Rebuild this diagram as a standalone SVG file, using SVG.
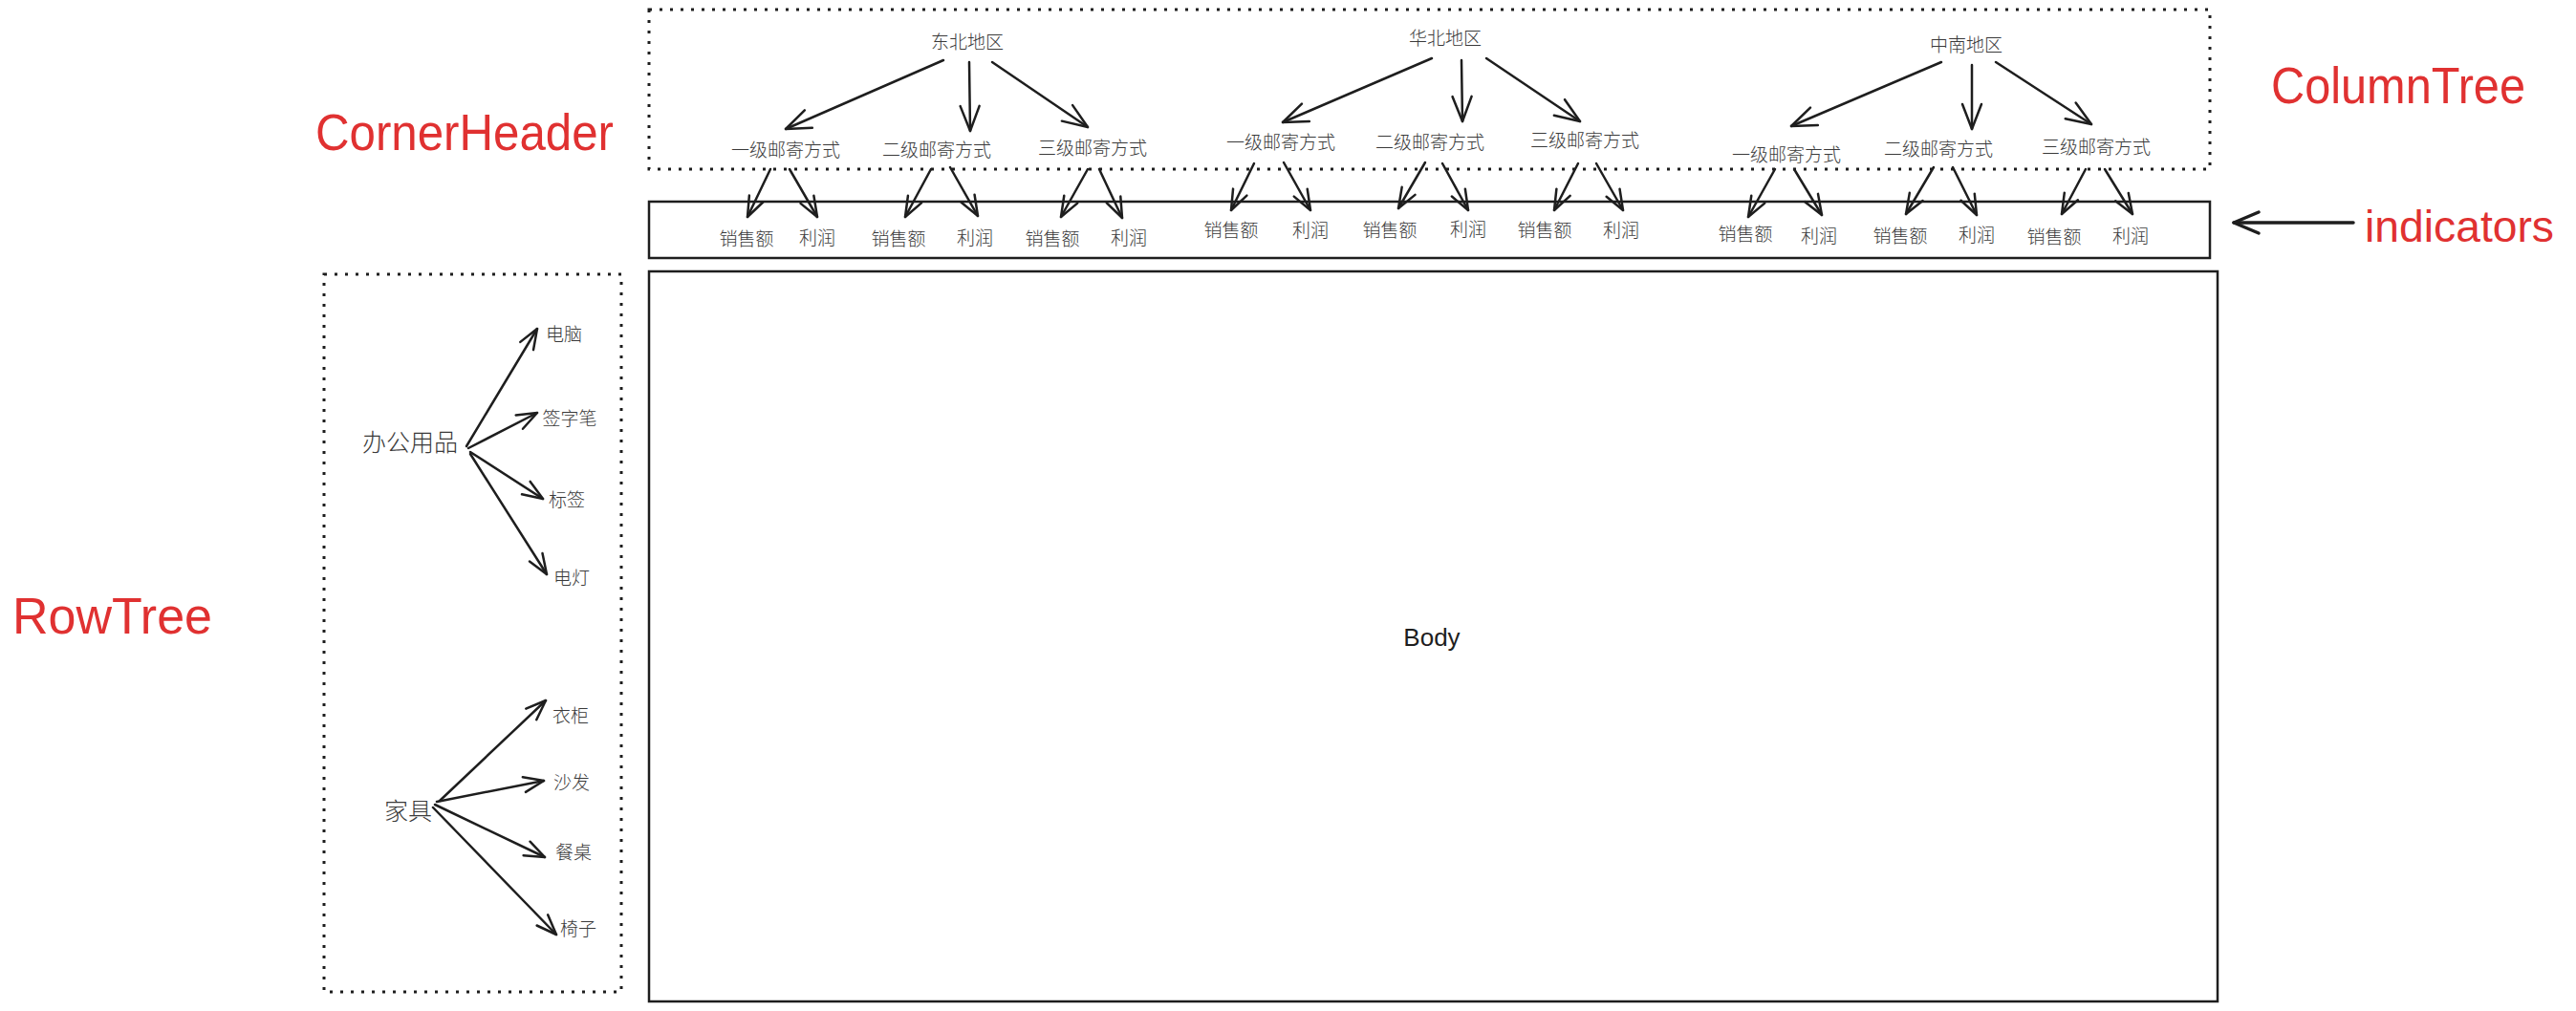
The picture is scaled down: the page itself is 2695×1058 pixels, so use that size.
<svg xmlns="http://www.w3.org/2000/svg" width="2695" height="1058" viewBox="0 0 2695 1058">
<defs>
<style>
.t{font-family:"Noto Sans CJK SC","Noto Sans",sans-serif;font-weight:300;fill:#3a3a3a;text-anchor:middle;dominant-baseline:central}
.s{font-size:19px}
.p{font-size:25px}
.lbl{font-family:"Liberation Sans","DejaVu Sans",sans-serif;fill:#e03131;font-size:54px}
.dot{fill:none;stroke:#1e1e1e;stroke-width:3;stroke-dasharray:3 8}
.box{fill:none;stroke:#1e1e1e;stroke-width:2.5}
.a{fill:none;stroke:#1e1e1e;stroke-width:2.5;stroke-linecap:round;marker-end:url(#ah)}
.b{fill:none;stroke:#1e1e1e;stroke-width:2.5;stroke-linecap:round;marker-end:url(#ahs)}
</style>
<marker id="ah" viewBox="-30 -15 35 30" refX="0" refY="0" markerWidth="35" markerHeight="30" markerUnits="userSpaceOnUse" orient="auto" overflow="visible">
<path d="M-26,-10 L0,0 L-26,10" fill="none" stroke="#1e1e1e" stroke-width="2.5" stroke-linecap="round" stroke-linejoin="round"/>
</marker>
<marker id="ahs" viewBox="-30 -15 35 30" refX="0" refY="0" markerWidth="35" markerHeight="30" markerUnits="userSpaceOnUse" orient="auto" overflow="visible">
<path d="M-21,-8 L0,0 L-21,8" fill="none" stroke="#1e1e1e" stroke-width="2.5" stroke-linecap="round" stroke-linejoin="round"/>
</marker>
<marker id="ahr" viewBox="-30 -15 35 30" refX="0" refY="0" markerWidth="35" markerHeight="30" markerUnits="userSpaceOnUse" orient="auto" overflow="visible">
<path d="M-26,-11 L0,0 L-26,11" fill="none" stroke="#1e1e1e" stroke-width="3.5" stroke-linecap="round" stroke-linejoin="round"/>
</marker>
</defs>
<rect width="2695" height="1058" fill="#ffffff"/>

<g id="frames">
<rect id="column-tree-frame" class="dot" x="679" y="10" width="1633" height="167"/>
<rect id="indicators-frame" class="box" x="679" y="211" width="1633" height="59"/>
<rect id="row-tree-frame" class="dot" x="339" y="287" width="311" height="751"/>
<g id="body"><rect class="box" x="679" y="284" width="1641" height="764"/>
<text x="1498" y="667" font-family="Liberation Sans, sans-serif" font-size="26" fill="#1e1e1e" text-anchor="middle" dominant-baseline="central">Body</text></g>
</g>

<g id="labels">
<text id="label-corner" class="lbl" x="330" y="157" textLength="312" lengthAdjust="spacingAndGlyphs">CornerHeader</text>
<text id="label-column" class="lbl" x="2376" y="108" textLength="266" lengthAdjust="spacingAndGlyphs">ColumnTree</text>
<text id="label-indicators" class="lbl" x="2474" y="253" font-size="46" style="font-size:46px" textLength="198" lengthAdjust="spacingAndGlyphs">indicators</text>
<text id="label-row" class="lbl" x="13" y="663" textLength="209" lengthAdjust="spacingAndGlyphs">RowTree</text>
</g>

<g id="connectors">
<path class="a" d="M987,63 L822,135"/>
<path class="a" d="M1014,65 L1015,137"/>
<path class="a" d="M1038,65 L1138,133"/>
<path class="a" d="M1498,61 L1342,128"/>
<path class="a" d="M1529,63 L1530,127"/>
<path class="a" d="M1555,61 L1653,127"/>
<path class="a" d="M2031,65 L1874,132"/>
<path class="a" d="M2063,68 L2063,135"/>
<path class="a" d="M2088,65 L2188,130"/>

<path class="b" d="M806,177 L782,227"/>
<path class="b" d="M826,177 L855,227"/>
<path class="b" d="M974,177 L947,227"/>
<path class="b" d="M994,175 L1023,226"/>
<path class="b" d="M1138,177 L1110,227"/>
<path class="b" d="M1150,177 L1174,228"/>
<path class="b" d="M1312,171 L1288,220"/>
<path class="b" d="M1343,170 L1371,220"/>
<path class="b" d="M1491,170 L1463,218"/>
<path class="b" d="M1509,171 L1536,220"/>
<path class="b" d="M1651,171 L1626,220"/>
<path class="b" d="M1670,171 L1698,220"/>
<path class="b" d="M1857,177 L1829,227"/>
<path class="b" d="M1877,177 L1906,225"/>
<path class="b" d="M2023,175 L1994,224"/>
<path class="b" d="M2043,175 L2068,225"/>
<path class="b" d="M2182,177 L2157,224"/>
<path class="b" d="M2202,177 L2231,224"/>

<path class="b" d="M488,467 L562,344"/>
<path class="b" d="M490,469 L562,432"/>
<path class="b" d="M492,473 L568,522"/>
<path class="b" d="M492,475 L572,601"/>
<path class="b" d="M460,838 L571,733"/>
<path class="b" d="M457,839 L569,817"/>
<path class="b" d="M455,842 L570,897"/>
<path class="b" d="M453,845 L582,978"/>

<path d="M2462,233 L2337,233" fill="none" stroke="#1e1e1e" stroke-width="3.5" stroke-linecap="round" marker-end="url(#ahr)"/>
</g>

<g id="column-nodes">
<g id="n-dongbei"><text class="t s" x="1012" y="42">东北地区</text></g>
<g id="n-huabei"><text class="t s" x="1512" y="38">华北地区</text></g>
<g id="n-zhongnan"><text class="t s" x="2057" y="45">中南地区</text></g>

<g id="n-db-1"><text class="t s" x="822" y="155">一级邮寄方式</text></g>
<g id="n-db-2"><text class="t s" x="980" y="155">二级邮寄方式</text></g>
<g id="n-db-3"><text class="t s" x="1143" y="153">三级邮寄方式</text></g>
<g id="n-hb-1"><text class="t s" x="1340" y="147">一级邮寄方式</text></g>
<g id="n-hb-2"><text class="t s" x="1496" y="147">二级邮寄方式</text></g>
<g id="n-hb-3"><text class="t s" x="1658" y="145">三级邮寄方式</text></g>
<g id="n-zn-1"><text class="t s" x="1869" y="160">一级邮寄方式</text></g>
<g id="n-zn-2"><text class="t s" x="2028" y="154">二级邮寄方式</text></g>
<g id="n-zn-3"><text class="t s" x="2193" y="152">三级邮寄方式</text></g>
</g>

<g id="indicator-nodes">
<g id="i-1"><text class="t s" x="781" y="248">销售额</text></g>
<g id="i-2"><text class="t s" x="855" y="247">利润</text></g>
<g id="i-3"><text class="t s" x="940" y="248">销售额</text></g>
<g id="i-4"><text class="t s" x="1020" y="247">利润</text></g>
<g id="i-5"><text class="t s" x="1101" y="248">销售额</text></g>
<g id="i-6"><text class="t s" x="1181" y="247">利润</text></g>
<g id="i-7"><text class="t s" x="1288" y="239">销售额</text></g>
<g id="i-8"><text class="t s" x="1371" y="239">利润</text></g>
<g id="i-9"><text class="t s" x="1454" y="239">销售额</text></g>
<g id="i-10"><text class="t s" x="1536" y="238">利润</text></g>
<g id="i-11"><text class="t s" x="1616" y="239">销售额</text></g>
<g id="i-12"><text class="t s" x="1696" y="239">利润</text></g>
<g id="i-13"><text class="t s" x="1826" y="243">销售额</text></g>
<g id="i-14"><text class="t s" x="1903" y="245">利润</text></g>
<g id="i-15"><text class="t s" x="1988" y="245">销售额</text></g>
<g id="i-16"><text class="t s" x="2068" y="244">利润</text></g>
<g id="i-17"><text class="t s" x="2149" y="246">销售额</text></g>
<g id="i-18"><text class="t s" x="2229" y="245">利润</text></g>
</g>

<g id="row-nodes">
<g id="r-office"><text class="t p" x="429" y="461">办公用品</text></g>
<g id="r-computer"><text class="t s" x="590" y="348">电脑</text></g>
<g id="r-pen"><text class="t s" x="596" y="436">签字笔</text></g>
<g id="r-label"><text class="t s" x="593" y="521">标签</text></g>
<g id="r-lamp"><text class="t s" x="598" y="603">电灯</text></g>
<g id="r-furniture"><text class="t p" x="427" y="847">家具</text></g>
<g id="r-wardrobe"><text class="t s" x="597" y="747">衣柜</text></g>
<g id="r-sofa"><text class="t s" x="598" y="817">沙发</text></g>
<g id="r-table"><text class="t s" x="600" y="890">餐桌</text></g>
<g id="r-chair"><text class="t s" x="605" y="970">椅子</text></g>
</g>
</svg>
